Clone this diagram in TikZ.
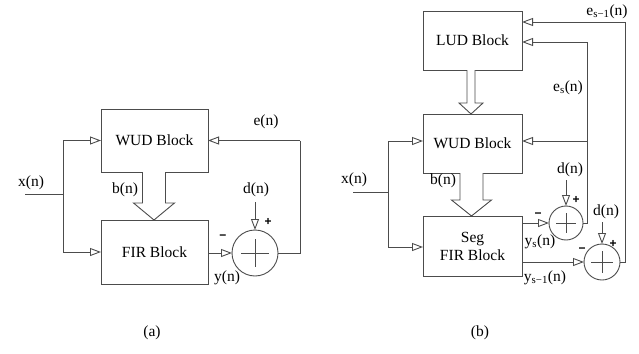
\documentclass[tikz,border=0pt]{standalone}
\usepackage{fontspec}
\setmainfont{Liberation Serif}
\setsansfont{Liberation Sans}
\usetikzlibrary{arrows.meta,calc}
\begin{document}
\begin{tikzpicture}[x=1pt,y=-1pt,
  ln/.style={draw=black!70,line width=0.9pt},
  blk/.style={ln,rectangle,inner sep=0pt,outer sep=0pt,font=\fontsize{15.5}{18}\selectfont,align=center},
  sumc/.style={ln,circle,inner sep=0pt,outer sep=0pt},
  sig/.style={ln,-{Triangle[open,length=11pt,width=8pt]}},
  lbl/.style={inner sep=0pt,font=\fontsize{15.5}{18}\selectfont},
  sgn/.style={inner sep=0pt,font=\sffamily\bfseries\fontsize{12}{14}\selectfont}]
\useasboundingbox (0,0) rectangle (639,353);
\newcommand{\hollowarrow}[6]{%
  \draw[ln,fill=white] (#1-#4,#2) -- (#1-#4,#3-#6) -- (#1-#5,#3-#6) -- (#1,#3)
     -- (#1+#5,#3-#6) -- (#1+#4,#3-#6) -- (#1+#4,#2);}
% ---------- (a) ----------
\node[blk,minimum width=107pt,minimum height=63pt] (wudA) at (154.5,140.5) {WUD Block};
\node[blk,minimum width=107pt,minimum height=64pt] (firA) at (154.5,252) {FIR Block};
\node[sumc,minimum size=46pt] (sumA) at (255,253) {};
\draw[ln] ($(sumA.center)+(-14,0)$) -- ++(28,0) ($(sumA.center)+(0,-14)$) -- ++(0,28);
\coordinate (inA) at (25,194);
\coordinate (jA) at (63,194);
\coordinate (jAt) at (63,140.5);
\coordinate (jAb) at (63,252);
\draw[ln] (inA) -- (jA);
\draw[ln] (jAt) -- (jAb);
\draw[sig] (jAt) -- (wudA.west);
\draw[sig] (jAb) -- (firA.west);
\draw[sig] (firA.east |- sumA.west) -- (sumA.west);
\coordinate (fbA1) at (300,253);
\coordinate (fbA2) at (300,140.5);
\draw[ln] (sumA.east) -- (fbA1) -- (fbA2);
\draw[sig] (fbA2) -- (wudA.east);
\coordinate (dA) at (255,202);
\draw[sig] (dA) -- (sumA.north);
\hollowarrow{154}{172}{220}{11.5}{20.5}{17}
\node[lbl] (xA) at (31,183) {x(n)};
\node[lbl] (bA) at (125,190) {b(n)};
\node[lbl] (eA) at (266,122) {e(n)};
\node[lbl] (dlA) at (256,190) {d(n)};
\node[lbl] (yA) at (227,278) {y(n)};
\node[sgn] (pA) at (268,222) {+};
\node[sgn] (mA) at (223,237) {−};
\node[lbl] (capA) at (152,333) {(a)};
% ---------- (b) ----------
\node[blk,minimum width=99pt,minimum height=59pt] (lud) at (472.5,40.5) {LUD Block};
\node[blk,minimum width=99pt,minimum height=59pt] (wudB) at (472.5,143.5) {WUD Block};
\node[blk,minimum width=99pt,minimum height=60pt] (firB) at (472.5,246) {Seg\\FIR Block};
\node[sumc,minimum size=34pt] (s1) at (566,223) {};
\node[sumc,minimum size=36pt] (s2) at (602,262) {};
\draw[ln] ($(s1.center)+(-10,0)$) -- ++(20,0) ($(s1.center)+(0,-10)$) -- ++(0,20);
\draw[ln] ($(s2.center)+(-11,0)$) -- ++(22,0) ($(s2.center)+(0,-11)$) -- ++(0,22);
\coordinate (inB) at (353,192);
\coordinate (jB) at (388,192);
\coordinate (jBt) at (388,141);
\coordinate (jBb) at (388,247);
\draw[ln] (inB) -- (jB);
\draw[ln] (jBt) -- (jBb);
\draw[sig] (jBt) -- (jBt -| wudB.west);
\draw[sig] (jBb) -- (jBb -| firB.west);
\draw[sig] (firB.east |- s1.west) -- (s1.west);
\draw[sig] (firB.east |- s2.west) -- (s2.west);
\coordinate (e1a) at (587,223);
\coordinate (e1b) at (587,42);
\coordinate (e1m) at (587,141);
\draw[ln] (s1.east) -- (e1a) -- (e1b);
\draw[sig] (e1b) -- (e1b -| lud.east);
\draw[sig] (e1m) -- (e1m -| wudB.east);
\coordinate (e2a) at (625,262);
\coordinate (e2b) at (625,22);
\coordinate (e2l) at (587,22);
\draw[ln] (s2.east) -- (e2a) -- (e2b) -- (e2l);
\draw[sig] (e2l) -- (e2l -| lud.east);
\coordinate (d1) at (566,180);
\coordinate (d2) at (602,222);
\draw[sig] (d1) -- (s1.north);
\draw[sig] (d2) -- (s2.north);
\hollowarrow{471}{70}{114}{4}{12}{11}
\hollowarrow{471.5}{173}{216}{11.5}{20}{16}
\node[lbl] (xB) at (354,180) {x(n)};
\node[lbl] (bB) at (443,181) {b(n)};
\node[lbl] (esm) at (607,12) {e\textsubscript{s−1}(n)};
\node[lbl] (es) at (568,88) {e\textsubscript{s}(n)};
\node[lbl] (ys) at (540,242) {y\textsubscript{s}(n)};
\node[lbl] (ysm) at (545,278) {y\textsubscript{s−1}(n)};
\node[lbl] (dl1) at (570,170) {d(n)};
\node[lbl] (dl2) at (606,212) {d(n)};
\node[sgn] (p1) at (576,200) {+};
\node[sgn] (m1) at (538,215) {−};
\node[sgn] (p2) at (613,244) {+};
\node[sgn] (m2) at (582,250) {−};
\node[lbl] (capB) at (480,333) {(b)};
\end{tikzpicture}
\end{document}
